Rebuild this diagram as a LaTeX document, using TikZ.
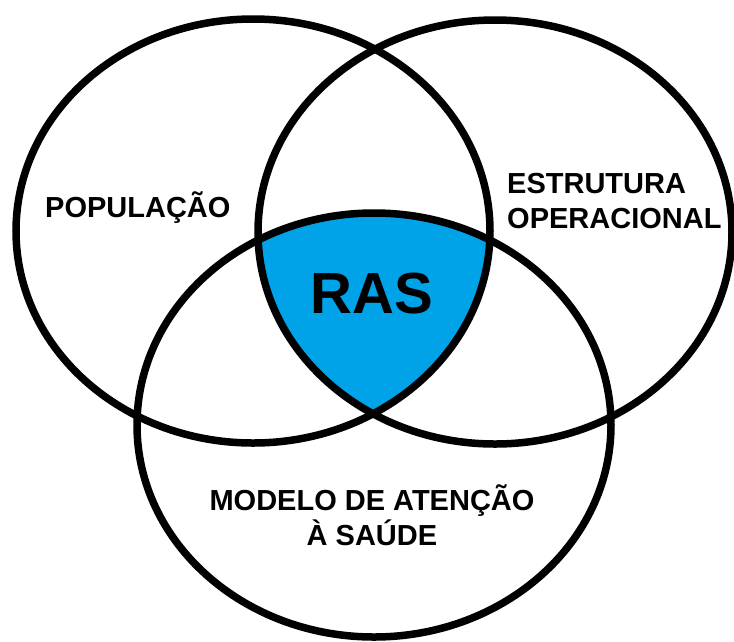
\documentclass[tikz,border=0pt]{standalone}
\usepackage{fontspec}
\setmainfont{Liberation Sans}
\usepackage{tikz}
\usetikzlibrary{positioning}
\definecolor{RasBlue}{HTML}{00A2E8}

\begin{document}
\begin{tikzpicture}[x=1pt, y=-1pt, every node/.style={font=\bfseries\fontsize{29}{35}\selectfont, inner sep=0pt}]
  \tikzset{
    venn/.style={x radius=237pt, y radius=212pt},
    ring/.style={draw=black, line width=7.5pt},
    areatext/.style={align=left, anchor=base west},
    core/.style={font=\bfseries\fontsize{58}{60}\selectfont, anchor=base}
  }
  \useasboundingbox (0,0) rectangle (734,641);

  % Centres
  \coordinate (pop) at (253,231);
  \coordinate (est) at (495,232);
  \coordinate (mod) at (374,425);

  % Intersection
  \begin{scope}
    \clip (pop) ellipse [venn];
    \clip (est) ellipse [venn];
    \fill[RasBlue] (mod) ellipse [venn];
  \end{scope}

  % Circles
  \draw[ring] (pop) ellipse [venn];
  \draw[ring] (est) ellipse [venn];
  \draw[ring] (mod) ellipse [venn];

  % Nodes
  \node[areatext] (populacao) at (45,217) {POPULAÇÃO};
  \node[areatext] (estrutura) at (507,228) {ESTRUTURA\\OPERACIONAL};
  \node[areatext, align=center, anchor=base] (modelo) at (372,545) {MODELO DE ATENÇÃO\\À SAÚDE};
  \node[core] (ras) at (372,313) {RAS};

\end{tikzpicture}
\end{document}
